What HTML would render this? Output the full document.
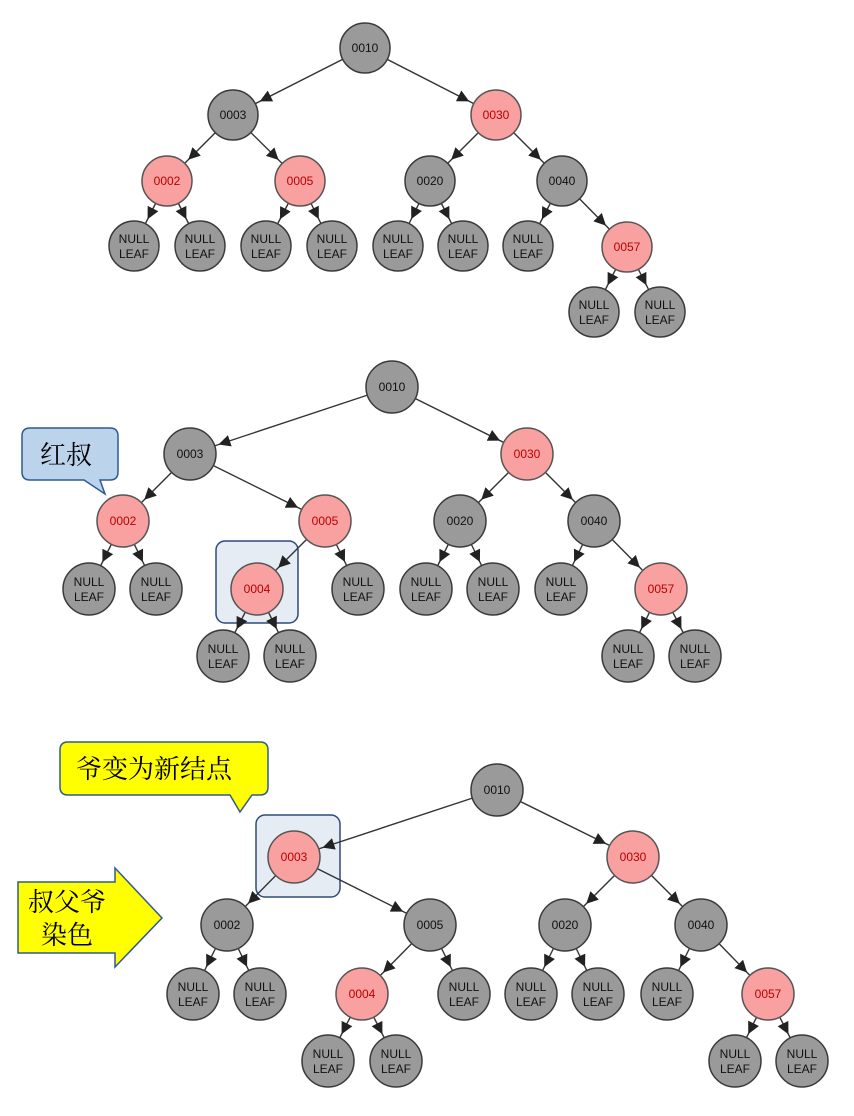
<!DOCTYPE html>
<html><head><meta charset="utf-8"><style>
html,body{margin:0;padding:0;background:#fff;}
svg{display:block;}
.g{fill:#9a9a9a;stroke:#3a3a3a;stroke-width:1.5}
.r{fill:#f9a0a0;stroke:#555;stroke-width:1.5}
.t{font-family:"Liberation Sans",sans-serif;font-size:12px;fill:#111;text-anchor:middle}
.tr{font-family:"Liberation Sans",sans-serif;font-size:12px;fill:#b00;text-anchor:middle}
.l{stroke:#333;stroke-width:1.4;marker-end:url(#a)}
.cj{font-family:"Liberation Serif","Noto Serif CJK SC",serif;font-size:26px;fill:#000}
</style></head><body>
<svg width="854" height="1116" viewBox="0 0 854 1116" xmlns="http://www.w3.org/2000/svg">
<defs><marker id="a" markerUnits="userSpaceOnUse" markerWidth="12" markerHeight="12" viewBox="0 0 10 10" refX="35" refY="5" orient="auto"><path d="M0,0 L10,5 L0,10 z" fill="#222"/></marker></defs>

<!-- Tree 1 edges -->
<g>
<line class="l" x1="365" y1="48" x2="233" y2="115"/><line class="l" x1="365" y1="48" x2="496" y2="115"/>
<line class="l" x1="233" y1="115" x2="167" y2="181"/><line class="l" x1="233" y1="115" x2="300" y2="181"/>
<line class="l" x1="496" y1="115" x2="430" y2="181"/><line class="l" x1="496" y1="115" x2="562" y2="181"/>
<line class="l" x1="167" y1="181" x2="134" y2="246"/><line class="l" x1="167" y1="181" x2="200" y2="246"/>
<line class="l" x1="300" y1="181" x2="266" y2="246"/><line class="l" x1="300" y1="181" x2="332" y2="246"/>
<line class="l" x1="430" y1="181" x2="398" y2="246"/><line class="l" x1="430" y1="181" x2="463" y2="246"/>
<line class="l" x1="562" y1="181" x2="528" y2="246"/><line class="l" x1="562" y1="181" x2="627" y2="247"/>
<line class="l" x1="627" y1="247" x2="594" y2="312"/><line class="l" x1="627" y1="247" x2="660" y2="312"/>
</g>
<!-- Tree 1 nodes -->
<g>
<circle class="g" cx="365" cy="48" r="25"/><text class="t" x="365" y="52">0010</text>
<circle class="g" cx="233" cy="115" r="25"/><text class="t" x="233" y="119">0003</text>
<circle class="r" cx="496" cy="115" r="25"/><text class="tr" x="496" y="119">0030</text>
<circle class="r" cx="167" cy="181" r="25"/><text class="tr" x="167" y="185">0002</text>
<circle class="r" cx="300" cy="181" r="25"/><text class="tr" x="300" y="185">0005</text>
<circle class="g" cx="430" cy="181" r="25"/><text class="t" x="430" y="185">0020</text>
<circle class="g" cx="562" cy="181" r="25"/><text class="t" x="562" y="185">0040</text>
<circle class="r" cx="627" cy="247" r="25"/><text class="tr" x="627" y="251">0057</text>
<circle class="g" cx="134" cy="246" r="25"/><text class="t" x="134" y="243">NULL</text><text class="t" x="134" y="258">LEAF</text>
<circle class="g" cx="200" cy="246" r="25"/><text class="t" x="200" y="243">NULL</text><text class="t" x="200" y="258">LEAF</text>
<circle class="g" cx="266" cy="246" r="25"/><text class="t" x="266" y="243">NULL</text><text class="t" x="266" y="258">LEAF</text>
<circle class="g" cx="332" cy="246" r="25"/><text class="t" x="332" y="243">NULL</text><text class="t" x="332" y="258">LEAF</text>
<circle class="g" cx="398" cy="246" r="25"/><text class="t" x="398" y="243">NULL</text><text class="t" x="398" y="258">LEAF</text>
<circle class="g" cx="463" cy="246" r="25"/><text class="t" x="463" y="243">NULL</text><text class="t" x="463" y="258">LEAF</text>
<circle class="g" cx="528" cy="246" r="25"/><text class="t" x="528" y="243">NULL</text><text class="t" x="528" y="258">LEAF</text>
<circle class="g" cx="594" cy="312" r="25"/><text class="t" x="594" y="309">NULL</text><text class="t" x="594" y="324">LEAF</text>
<circle class="g" cx="660" cy="312" r="25"/><text class="t" x="660" y="309">NULL</text><text class="t" x="660" y="324">LEAF</text>
</g>

<!-- Tree 2 -->
<rect x="216" y="541" width="82" height="82" rx="9" fill="#e6ecf4" stroke="#2f4a78" stroke-width="1.5"/>
<g>
<line class="l" x1="392" y1="387" x2="190" y2="454"/><line class="l" x1="392" y1="387" x2="527" y2="454"/>
<line class="l" x1="190" y1="454" x2="123" y2="521"/><line class="l" x1="190" y1="454" x2="325" y2="521"/>
<line class="l" x1="527" y1="454" x2="460" y2="521"/><line class="l" x1="527" y1="454" x2="594" y2="521"/>
<line class="l" x1="123" y1="521" x2="89" y2="589"/><line class="l" x1="123" y1="521" x2="156" y2="589"/>
<line class="l" x1="325" y1="521" x2="257" y2="589"/><line class="l" x1="325" y1="521" x2="358" y2="589"/>
<line class="l" x1="460" y1="521" x2="426" y2="589"/><line class="l" x1="460" y1="521" x2="493" y2="589"/>
<line class="l" x1="594" y1="521" x2="561" y2="589"/><line class="l" x1="594" y1="521" x2="661" y2="589"/>
<line class="l" x1="257" y1="589" x2="223" y2="656"/><line class="l" x1="257" y1="589" x2="290" y2="656"/>
<line class="l" x1="661" y1="589" x2="628" y2="656"/><line class="l" x1="661" y1="589" x2="695" y2="656"/>
</g>
<g>
<circle class="g" cx="392" cy="387" r="26"/><text class="t" x="392" y="391">0010</text>
<circle class="g" cx="190" cy="454" r="26"/><text class="t" x="190" y="458">0003</text>
<circle class="r" cx="527" cy="454" r="26"/><text class="tr" x="527" y="458">0030</text>
<circle class="r" cx="123" cy="521" r="26"/><text class="tr" x="123" y="525">0002</text>
<circle class="r" cx="325" cy="521" r="26"/><text class="tr" x="325" y="525">0005</text>
<circle class="g" cx="460" cy="521" r="26"/><text class="t" x="460" y="525">0020</text>
<circle class="g" cx="594" cy="521" r="26"/><text class="t" x="594" y="525">0040</text>
<circle class="r" cx="257" cy="589" r="26"/><text class="tr" x="257" y="593">0004</text>
<circle class="r" cx="661" cy="589" r="26"/><text class="tr" x="661" y="593">0057</text>
<circle class="g" cx="89" cy="589" r="26"/><text class="t" x="89" y="586">NULL</text><text class="t" x="89" y="601">LEAF</text>
<circle class="g" cx="156" cy="589" r="26"/><text class="t" x="156" y="586">NULL</text><text class="t" x="156" y="601">LEAF</text>
<circle class="g" cx="358" cy="589" r="26"/><text class="t" x="358" y="586">NULL</text><text class="t" x="358" y="601">LEAF</text>
<circle class="g" cx="426" cy="589" r="26"/><text class="t" x="426" y="586">NULL</text><text class="t" x="426" y="601">LEAF</text>
<circle class="g" cx="493" cy="589" r="26"/><text class="t" x="493" y="586">NULL</text><text class="t" x="493" y="601">LEAF</text>
<circle class="g" cx="561" cy="589" r="26"/><text class="t" x="561" y="586">NULL</text><text class="t" x="561" y="601">LEAF</text>
<circle class="g" cx="223" cy="656" r="26"/><text class="t" x="223" y="653">NULL</text><text class="t" x="223" y="668">LEAF</text>
<circle class="g" cx="290" cy="656" r="26"/><text class="t" x="290" y="653">NULL</text><text class="t" x="290" y="668">LEAF</text>
<circle class="g" cx="628" cy="656" r="26"/><text class="t" x="628" y="653">NULL</text><text class="t" x="628" y="668">LEAF</text>
<circle class="g" cx="695" cy="656" r="26"/><text class="t" x="695" y="653">NULL</text><text class="t" x="695" y="668">LEAF</text>
</g>
<path d="M30,428 H110 Q118,428 118,436 V472 Q118,480 110,480 H100 L105,494 L84,480 H30 Q22,480 22,472 V436 Q22,428 30,428 Z" fill="#bcd3ec" stroke="#2f5a94" stroke-width="1.5"/>
<text class="cj" x="40" y="464">红叔</text>

<!-- Tree 3 -->
<rect x="256" y="815" width="84" height="82" rx="9" fill="#e6ecf4" stroke="#2f4a78" stroke-width="1.5"/>
<g>
<line class="l" x1="497" y1="790" x2="294" y2="857"/><line class="l" x1="497" y1="790" x2="633" y2="857"/>
<line class="l" x1="294" y1="857" x2="227" y2="925"/><line class="l" x1="294" y1="857" x2="430" y2="925"/>
<line class="l" x1="633" y1="857" x2="565" y2="925"/><line class="l" x1="633" y1="857" x2="701" y2="925"/>
<line class="l" x1="227" y1="925" x2="193" y2="994"/><line class="l" x1="227" y1="925" x2="260" y2="994"/>
<line class="l" x1="430" y1="925" x2="362" y2="994"/><line class="l" x1="430" y1="925" x2="464" y2="994"/>
<line class="l" x1="565" y1="925" x2="531" y2="994"/><line class="l" x1="565" y1="925" x2="598" y2="994"/>
<line class="l" x1="701" y1="925" x2="667" y2="994"/><line class="l" x1="701" y1="925" x2="768" y2="994"/>
<line class="l" x1="362" y1="994" x2="328" y2="1061"/><line class="l" x1="362" y1="994" x2="396" y2="1061"/>
<line class="l" x1="768" y1="994" x2="735" y2="1061"/><line class="l" x1="768" y1="994" x2="802" y2="1061"/>
</g>
<g>
<circle class="g" cx="497" cy="790" r="26"/><text class="t" x="497" y="794">0010</text>
<circle class="r" cx="294" cy="857" r="26"/><text class="tr" x="294" y="861">0003</text>
<circle class="r" cx="633" cy="857" r="26"/><text class="tr" x="633" y="861">0030</text>
<circle class="g" cx="227" cy="925" r="26"/><text class="t" x="227" y="929">0002</text>
<circle class="g" cx="430" cy="925" r="26"/><text class="t" x="430" y="929">0005</text>
<circle class="g" cx="565" cy="925" r="26"/><text class="t" x="565" y="929">0020</text>
<circle class="g" cx="701" cy="925" r="26"/><text class="t" x="701" y="929">0040</text>
<circle class="r" cx="362" cy="994" r="26"/><text class="tr" x="362" y="998">0004</text>
<circle class="r" cx="768" cy="994" r="26"/><text class="tr" x="768" y="998">0057</text>
<circle class="g" cx="193" cy="994" r="26"/><text class="t" x="193" y="991">NULL</text><text class="t" x="193" y="1006">LEAF</text>
<circle class="g" cx="260" cy="994" r="26"/><text class="t" x="260" y="991">NULL</text><text class="t" x="260" y="1006">LEAF</text>
<circle class="g" cx="464" cy="994" r="26"/><text class="t" x="464" y="991">NULL</text><text class="t" x="464" y="1006">LEAF</text>
<circle class="g" cx="531" cy="994" r="26"/><text class="t" x="531" y="991">NULL</text><text class="t" x="531" y="1006">LEAF</text>
<circle class="g" cx="598" cy="994" r="26"/><text class="t" x="598" y="991">NULL</text><text class="t" x="598" y="1006">LEAF</text>
<circle class="g" cx="667" cy="994" r="26"/><text class="t" x="667" y="991">NULL</text><text class="t" x="667" y="1006">LEAF</text>
<circle class="g" cx="328" cy="1061" r="26"/><text class="t" x="328" y="1058">NULL</text><text class="t" x="328" y="1073">LEAF</text>
<circle class="g" cx="396" cy="1061" r="26"/><text class="t" x="396" y="1058">NULL</text><text class="t" x="396" y="1073">LEAF</text>
<circle class="g" cx="735" cy="1061" r="26"/><text class="t" x="735" y="1058">NULL</text><text class="t" x="735" y="1073">LEAF</text>
<circle class="g" cx="802" cy="1061" r="26"/><text class="t" x="802" y="1058">NULL</text><text class="t" x="802" y="1073">LEAF</text>
</g>
<path d="M68,742 H260 Q268,742 268,750 V787 Q268,795 260,795 H252 L240,812 L230,795 H68 Q60,795 60,787 V750 Q60,742 68,742 Z" fill="#ffff00" stroke="#2f5a94" stroke-width="1.5"/>
<text class="cj" x="76" y="778">爷变为新结点</text>
<path d="M18,882 H115 V868 L162,918 L115,967 V953 H18 Z" fill="#ffff00" stroke="#2f5a94" stroke-width="1.5"/>
<text class="cj" x="28" y="911">叔父爷</text>
<text class="cj" x="41" y="944">染色</text>
</svg>
</body></html>
